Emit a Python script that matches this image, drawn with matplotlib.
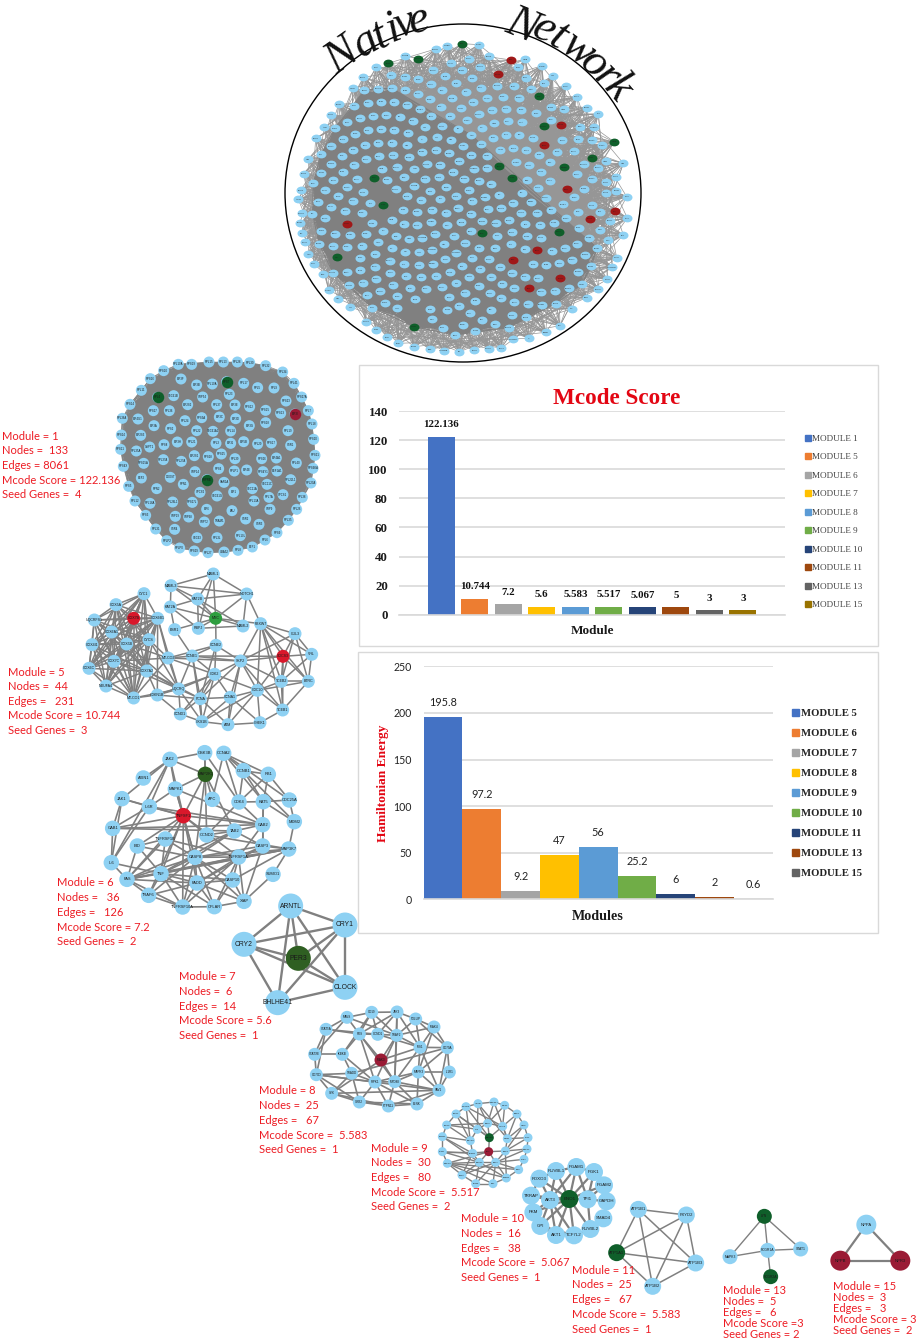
import itertools
import numpy as np
import matplotlib
matplotlib.use("Agg")
import matplotlib.pyplot as plt
from matplotlib.collections import LineCollection
from matplotlib.patches import Ellipse, Rectangle, Patch
from matplotlib.path import Path
from matplotlib.transforms import Affine2D

# ------ BAR DATA ------
mcode_labels = ["MODULE 1", "MODULE 5", "MODULE 6", "MODULE 7", "MODULE 8",
                "MODULE 9", "MODULE 10", "MODULE 11", "MODULE 13", "MODULE 15"]
mcode_values = [122.136, 10.744, 7.2, 5.6, 5.583, 5.517, 5.067, 5, 3, 3]
mcode_text = ["122.136", "10.744", "7.2", "5.6", "5.583", "5.517", "5.067", "5", "3", "3"]
mcode_colors = ["#4472C4", "#ED7D31", "#A5A5A5", "#FFC000", "#5B9BD5",
                "#70AD47", "#264478", "#9E480E", "#636363", "#997300"]

energy_labels = ["MODULE 5", "MODULE 6", "MODULE 7", "MODULE 8", "MODULE 9",
                 "MODULE 10", "MODULE 11", "MODULE 13", "MODULE 15"]
energy_values = [195.8, 97.2, 9.2, 47, 56, 25.2, 6, 2, 0.6]
energy_text = ["195.8", "97.2", "9.2", "47", "56", "25.2", "6", "2", "0.6"]

# ------ CAPTIONS (text, left edge, first line, line step) ------
captions = [
    (["Module = 1", "Nodes =  133", "Edges = 8061", "Mcode Score = 122.136", "Seed Genes =  4"], 2, 436, 14.7),
    (["Module = 5", "Nodes =  44", "Edges =   231", "Mcode Score = 10.744", "Seed Genes =  3"], 8, 672, 14.6),
    (["Module = 6", "Nodes =   36", "Edges =   126", "Mcode Score = 7.2", "Seed Genes =  2"], 57, 883, 14.7),
    (["Module = 7", "Nodes =  6", "Edges =  14", "Mcode Score = 5.6", "Seed Genes =  1"], 179, 977, 14.6),
    (["Module = 8", "Nodes =  25", "Edges =   67", "Mcode Score =  5.583", "Seed Genes =  1"], 259, 1091, 14.7),
    (["Module = 9", "Nodes =  30", "Edges =   80", "Mcode Score =  5.517", "Seed Genes =  2"], 371, 1148, 14.7),
    (["Module = 10", "Nodes =  16", "Edges =   38", "Mcode Score =  5.067", "Seed Genes =  1"], 461, 1219, 14.6),
    (["Module = 11", "Nodes =  25", "Edges =   67", "Mcode Score =  5.583", "Seed Genes =  1"], 572, 1270, 14.9),
    (["Module = 13", "Nodes =  5", "Edges =   6", "Mcode Score =3", "Seed Genes = 2"], 723, 1290, 11.2),
    (["Module = 15", "Nodes =  3", "Edges =   3", "Mcode Score = 3", "Seed Genes =  2"], 833, 1286, 11.2),
]

# ------ NETWORKS ------
# node positions are read from the picture, in zoom crop units (crop origin, 3x)
NODE = "#8ED1F3"
GREEN = "#0F5F2A"
RED = "#D9182B"
WINE = "#9A1B35"

m7_names = ["ARNTL", "CRY1", "CRY2", "PER3", "CLOCK", "BHLHE41"]
m7_x = [722, 885, 582, 745, 885, 683]
m7_y = [498, 555, 613, 655, 742, 788]
m7_edges = [(0,1),(0,2),(0,3),(0,4),(0,5),(1,2),(1,3),(1,4),(1,5),(2,3),(2,4),(2,5),(3,4),(4,5)]

m6_names = ["JAK2","GSK3B","CCNA2","AXIN1","MAP2K1","CCNB1","RB1","MAPK1","APC","CDK4","KAT5","CDC25A",
            "JAK1","IL6R","TNFSF1","MDM2","GAB1","GAB2","CCND2","TAB2","TNFRSF1B","BID","CASP3","MAP3K7",
            "CASP8","TNFRSF1A","IL6","SUMO1","FAS","TNF","FADD","CASP10","TRAF6","TNFRSF10A","CFLAR","XIAP"]
m6_x = [360,464,521,280,466,580,655,376,487,567,640,718,216,298,400,733,188,638,470,553,346,262,638,716,
        435,566,184,669,231,333,441,548,296,398,493,582]
m6_y = [58,38,40,114,103,92,103,147,178,186,185,180,176,200,227,245,265,254,285,273,297,318,318,327,
        352,351,368,403,418,401,429,420,466,501,500,484]
m6_edges = [(0,1),(0,3),(0,7),(0,12),(0,13),(0,26),(0,14),(0,4),(1,4),(1,9),(1,18),(2,5),(2,6),(2,9),(2,10),(2,11),
            (2,8),(5,6),(5,9),(5,10),(5,15),(6,10),(6,9),(6,11),(4,7),(4,14),(4,8),(4,19),(4,24),(7,13),(7,14),
            (7,24),(7,17),(9,10),(9,17),(9,18),(10,11),(10,15),(10,17),(10,22),(11,15),(12,13),(12,16),(12,26),
            (12,14),(13,16),(13,14),(13,17),(13,26),(14,16),(14,17),(14,18),(14,21),(14,24),(14,29),(14,28),
            (14,30),(14,33),(14,25),(14,32),(16,26),(16,19),(16,17),(17,22),(17,19),(17,25),(18,19),(18,23),
            (19,24),(19,22),(19,29),(19,28),(22,23),(22,25),(22,24),(22,30),(22,35),(15,23),(23,25),(23,29),
            (23,28),(23,27),(23,24),(23,31),(21,29),(21,28),(21,24),(21,20),(20,24),(20,28),(20,29),(20,25),
            (24,25),(24,29),(24,28),(24,30),(24,31),(24,32),(24,33),(24,34),(24,35),(25,29),(25,30),(25,31),
            (25,28),(25,33),(25,35),(25,34),(26,28),(26,29),(28,29),(28,30),(28,33),(28,32),(29,30),(29,32),
            (29,33),(29,34),(29,31),(30,33),(30,34),(30,35),(30,31),(31,34),(31,35),(33,34),(34,35),(27,35),
            (32,33),(32,30)]

m5_names = ["MAML1","MAML3","NOTCH1","CYC1","KAT2B","COX5A","KAT2A","COX7B","COX6B1","MYC","UQCRFS1","FBXW7",
            "MAML2","ESR1","RBPJ","COX6A1","CUL3","CYCS","COX4I1","COX5B","CCNE2","VHL","SOCS3","CCNE1","MT-CO2",
            "COX7C","SKP2","COX6C","COX7A2","CDK2","TCEB2","BTRC","NDUFA4","UQCRQ","CDC20","MT-CO1","CDKN1B",
            "PCNA","CCNA1","TCEB1","CCND1","CKS1B","ATM","CHEK1"]
m5_x = [640,513,740,432,593,348,511,401,473,647,283,782,729,524,595,335,885,447,276,380,648,935,849,577,504,
        342,722,267,440,644,844,925,318,536,772,401,472,601,691,848,541,606,684,780]
m5_y = [57,92,117,116,132,149,156,190,190,190,195,206,213,224,220,231,236,254,269,267,271,298,304,303,309,
        319,318,340,348,358,379,379,393,402,406,429,420,431,427,465,477,500,509,503]
m5_clique = [3,5,7,8,10,15,17,18,19,25,27,28,32,35]
m5_edges = [(0,1),(0,2),(0,4),(0,9),(0,14),(1,4),(1,6),(1,9),(1,2),(2,4),(2,9),(2,11),(2,12),(4,6),(4,9),(4,14),
            (4,12),(6,13),(6,14),(6,9),(9,14),(9,13),(9,12),(9,11),(9,20),(13,23),(12,14),(11,16),(11,22),(11,21),
            (11,26),(11,30),(11,31),(11,39),(11,34),(16,21),(16,22),(16,30),(16,31),(16,26),(21,22),(21,30),(21,31),
            (22,26),(22,30),(22,31),(22,34),(22,39),(22,23),(30,31),(30,34),(30,39),(31,39),(31,34),(34,39),(26,20),
            (26,23),(26,29),(26,34),(26,38),(26,37),(26,42),(26,24),(26,30),(26,39),(20,23),(20,29),(20,24),(20,37),
            (23,29),(23,33),(23,37),(23,41),(23,24),(24,33),(24,29),(29,33),(29,37),(29,38),(29,34),(29,36),(29,40),
            (29,41),(33,36),(33,37),(33,40),(33,41),(36,37),(36,40),(37,38),(37,40),(37,41),(37,42),(38,41),(38,34),
            (38,42),(38,43),(40,41),(41,42),(42,43),(34,43),(34,42),(43,39),(34,41),(8,24),(8,33),(17,24),(17,33),
            (19,24),(19,33),(25,33),(28,33),(28,36),(35,36),(35,33),(28,37),(25,24),(35,24),(8,36)]

m8_names = ["MAVS","CD19","JAK3","TOLLIP","IRAK4","STAT5A","FOS","CCND1","TRAF2","CD79A","IRS1","STAT3B","IKBKB",
            "IRAK3","CD79D","TRADD","MAPK3","IL1R1","RIPK1","MYD88","SYK","VAV1","GRB2","PTPN11","BLNK"]
m8_x = [291,365,441,497,552,228,328,383,440,592,510,194,277,393,199,305,505,598,375,434,245,567,328,415,501]
m8_y = [52,37,36,57,81,88,102,103,106,143,142,163,163,180,224,220,216,216,246,245,280,271,306,318,312]
m8_edges = [(0,1),(0,5),(0,6),(0,8),(0,11),(1,2),(1,6),(1,7),(1,8),(1,12),(2,3),(2,6),(2,7),(2,8),(2,10),(2,19),(3,4),
            (3,8),(3,10),(3,9),(4,8),(4,9),(4,10),(4,16),(5,6),(5,11),(5,14),(5,7),(6,7),(6,12),(6,13),(6,18),(6,19),
            (7,8),(7,10),(8,13),(8,18),(8,19),(8,10),(9,10),(9,17),(9,21),(9,16),(9,15),(10,16),(10,19),(10,13),(10,21),
            (11,14),(11,12),(12,15),(12,18),(13,19),(13,20),(14,15),(14,20),(14,22),(14,18),(14,21),(15,18),(15,20),
            (15,22),(16,17),(16,18),(16,19),(16,21),(16,24),(17,21),(18,19),(18,22),(18,23),(18,24),(19,21),(19,24),
            (19,23),(20,22),(20,23),(20,21),(21,24),(21,23),(22,23),(23,24),(22,24)]

m9_names = ["MAP3K7","IKBKB","RIPK1","MOTOR","NCK1","TGIF1","UBTF","TGIF2","BCL2","TRAF2","JUN","TGFB1","LEF1",
            "SMAD3","SMAD2","CTSD","FADD","SKIL","MAPK1","NFKB1","SHC1","PAK1","CDC42","CUL1","MAPK3","FOS","TGFA",
            "PTPN1","EPOR","CBL"]
m9_x = [732,684,764,648,801,618,822,590,713,758,682,577,834,661,718,772,577,716,831,668,766,822,688,737,592,
        806,636,769,677,729]
m9_y = [306,311,316,320,342,342,375,375,370,379,388,410,413,422,413,416,455,455,447,460,453,478,487,487,490,
        509,525,534,551,551]
m9_edges = [(0,1),(0,2),(1,3),(2,4),(3,5),(4,6),(5,7),(6,12),(7,11),(11,16),(12,18),(16,24),(18,21),(21,25),(24,26),
            (25,27),(26,28),(27,29),(28,29),(0,8),(1,10),(2,9),(3,13),(4,9),(5,10),(6,15),(7,13),(7,8),(8,9),(8,10),
            (8,14),(9,14),(9,15),(10,13),(10,14),(11,13),(11,19),(12,15),(13,19),(14,17),(15,20),(16,19),(16,22),
            (17,19),(17,20),(17,22),(17,23),(18,20),(19,22),(20,23),(21,23),(22,23),(22,24),(23,27),(24,27),(24,29),
            (24,25),(25,23),(26,19),(26,22),(27,20),(28,22),(29,23),(1,8),(3,14),(5,14),(0,15),(6,20),(1,15),(3,9),
            (5,13),(7,10),(11,22),(16,17),(24,17),(12,20),(18,23),(4,15),(2,8),(26,23),(28,23),(27,22)]

m10_names = ["PGAM1","PGK1","RUVBL1","FOXO3","PGAM2","TRRAP","AKT3","ENO1","TPI1","GAPDH","SMAD4","PKM","GPI",
             "RUVBL2","AKT1","TCF7L2"]
m10_x = [379,432,318,268,462,243,300,358,413,470,460,250,271,421,318,372]
m10_y = [21,36,33,56,76,107,120,117,118,124,175,157,198,207,225,226]
m10_edges = [(0,2),(0,1),(0,6),(0,7),(0,8),(1,7),(1,8),(2,3),(2,6),(2,7),(3,5),(3,6),(3,7),(4,7),(4,8),(5,6),(5,7),
             (5,11),(5,12),(6,7),(6,11),(6,12),(6,14),(7,8),(7,11),(7,12),(7,14),(7,15),(7,13),(8,9),(8,13),(10,13),
             (11,12),(11,14),(12,14),(12,15),(13,15),(14,15),(6,15)]

m11_names = ["ATP1B1", "FXYD2", "ATP1A1", "ATP1B3", "ATP1B2"]
m11_x = [565, 709, 500, 737, 608]
m11_y = [148, 165, 278, 309, 379]
m11_edges = [(0,1),(0,2),(0,3),(0,4),(1,2),(1,3),(1,4),(2,3),(2,4),(3,4)]

m13_names = ["LYN", "FCGR1A", "MAPK3", "STAT1", "FCGR2A"]
m13_x = [943, 953, 840, 1052, 962]
m13_y = [169, 271, 290, 267, 350]
m13_edges = [(0,1),(0,2),(0,3),(1,2),(1,3),(1,4)]

m15_names = ["NPPA", "NPPB", "NPR3"]
m15_x = [1249, 1171, 1351]
m15_y = [194, 302, 302]
m15_edges = [(0,1),(0,2),(1,2)]

m1_names = ["RPL10A","RPS19","RPL15","RPL13","RPL28","RPL30","RPL32","RPL34","RPL41","RPS27A","RPL7","RPL18","RPS20",
            "RPS21","RPS6KA","RPL23A","RPL38","RPL26","RPL35","RPS9","RPL6","ETF1","RPL8","UBA52","RPL27","RPS29",
            "RPLP0","RPLP2","RPL31","RPS3","RPL12","RPS5","RPS4X","RPS11","RPS24","RPL36A","RPS14","RPL11","RPS16",
            "RPS10","EIF3F","EIF3B","RPL10A","RPS7","RPL17","RPL5","RPL9","RPL4","SEC61B","SRP54","RPL23","RPS23",
            "EIF3I","RPS13","RPS15","RPS12","EIF3E","RPL37","EIF2S2","RPS27","RPL36","RPS3A","EIF3C","EIF3D","RPL24",
            "EIF4G1","EIF3A","RPS2","RPL22","SEC61A1","RPL14","EIF3G","RPS18","RPL19","EIF2S3","RPS8","EIF3H","RPL21",
            "RPL3","EIF3J","EIF5B","RPL29","RPS17","SSR1","GSPT1","RPL35A","RPL37A","EIF2S1","RPS28","RPS25","RPL39",
            "RPS26","EIF4A1","RPL40","RPS15A","RPL27A","SRP14","RPS6","RPLP1","EIF4E","RPS4Y1","EEF1A1","RPL22L1",
            "EEF2","DDOST","SRPRB","SAR1A","RPN1","RPN2","SEC11A","SEC11C","SPCS1","SPCS2","SEC61G","EIF1","RPL7A",
            "RPL13A","RPL18A","RPL26L1","RPS27L","EIF6","FAU","SRP9","SRP19","SRP68","SRP72","TRAM1","SSR2","SSR3",
            "SSR4","SEC63","RPL3L","RPL10L"]
m1_x = [535,575,627,670,712,749,797,848,882,905,925,936,941,945,939,933,907,890,865,831,795,757,714,672,624,583,539,
        500,467,437,405,386,370,362,364,367,390,424,451,491,
        543,590,637,680,731,773,822,473,521,608,688,858,885,842,797,749,705,650,563,460,508,605,658,707,555,414,462,
        512,590,639,692,748,797,864,422,492,532,575,648,692,731,773,814,872,449,409,490,583,625,664,705,785,829,889,
        431,544,585,656,703,740,789,831,872,424,511,621,672,550,470,757,801,849,600,651,701,807,762,450,518,577,620,
        696,810,526,566,613,658,737,777,524,591,651,721]
m1_y = [58,58,51,51,51,53,62,81,115,156,197,237,283,331,370,414,457,493,526,563,585,606,616,621,623,618,609,
        587,552,511,468,424,364,313,270,220,178,136,101,77,
        102,120,117,110,115,128,129,157,152,156,148,168,207,205,196,185,180,179,179,197,197,218,216,221,227,222,242,
        251,257,259,258,242,233,257,271,299,291,291,295,295,290,297,294,301,306,318,344,332,335,327,341,341,339,354,
        355,349,380,371,378,375,380,378,404,399,397,404,412,418,431,431,418,449,442,453,441,457,468,475,471,472,493,
        497,493,514,516,531,528,522,538,553,578,578,572]
m1_colored = {43: GREEN, 47: GREEN, 105: GREEN, 52: WINE}

# native network, crop origin (270, 0)
native_green_x = [577,354,444,807,821,1033,965,883,687,726,313,340,637,866,201,432]
native_green_y = [131,190,176,289,379,426,473,501,499,533,533,614,700,695,771,980]
native_red_x = [723,683,873,822,890,1035,959,231,801,729,871,777]
native_red_y = [180,222,374,435,568,634,656,672,751,779,835,865]
native_rim_x = [532,627,497,405,319,280,249,206,183,163,137,115,101,93,85,95,90,95,105,115,131,158,176,205,241,288,318,
                352,385,432,479,521,568,613,656,694,730,776,827,870,906,950,985,1012,1027,1040,1060,1072,1070,1060,1037,
                1007,995,985,950,921,887,848,815,765,881,1008,1007,965,380,480,532,662]
native_rim_y = [137,134,147,167,202,232,265,313,344,382,415,477,521,570,598,640,668,700,726,762,792,823,870,896,921,965,
                990,1012,1030,1040,1048,1052,1056,1050,1046,1044,1018,1015,997,977,926,893,867,838,801,773,705,654,590,
                490,530,483,436,342,323,290,258,228,198,178,327,547,578,615,925,927,930,930]
# outline of the solid grey mass
native_core_x = [130,250,330,600,770,985,960,770,650,430,210,95]
native_core_y = [430,270,240,400,620,740,845,985,1025,1005,870,650]

# curved title, letter by letter
title_letters = list("Native") + list("Network")
title_x = [342, 366, 381, 393, 405, 419, 522, 544, 558, 578, 594, 606, 618]
title_y = [57, 43, 36, 29, 24, 21, 26, 30, 38, 50, 64, 76, 88]
title_rot = [35, 30, 26, 22, 18, 14, -22, -27, -31, -36, -41, -45, -49]


def crop(xs, ys, x0, y0):
    return x0 + np.array(xs) / 3, y0 + np.array(ys) / 3


def draw_net(ax, names, x, y, edges, size, lw, fs, colors=None):
    x = np.array(x)
    y = np.array(y)
    segs = [[(x[a], y[a]), (x[b], y[b])] for a, b in edges]
    ax.add_collection(LineCollection(segs, colors="#808080", linewidths=lw, zorder=2))
    cols = [(colors or {}).get(n, NODE) for n in names]
    ax.scatter(x, y, s=(size * 0.72) ** 2, c=cols, linewidths=0, zorder=3)
    for n, a, b in zip(names, x, y):
        ax.text(a, b, n, fontsize=fs, ha="center", va="center", color="#1a1a1a",
                family="Liberation Sans", zorder=4)


plt.rcParams["font.family"] = "Liberation Serif"
fig = plt.figure(figsize=(9.18, 13.39), dpi=100)
ax = fig.add_axes([0, 0, 1, 1])
ax.set_xlim(0, 918)
ax.set_ylim(1339, 0)
ax.axis("off")

# ------ NATIVE NETWORK ------
ax.add_patch(Ellipse((463, 193), 356, 338, fill=False, ec="black", lw=1.0, zorder=5))

gx, gy = crop(native_green_x, native_green_y, 270, 0)
rx, ry = crop(native_red_x, native_red_y, 270, 0)
bx, by = crop(native_rim_x, native_rim_y, 270, 0)
placed = np.column_stack([np.r_[gx, rx, bx], np.r_[gy, ry, by]])

# the inner nodes are too many to read one by one, so they fill the disc evenly
inner = []
for k in range(400):
    t = np.sqrt((k + 0.5) / 400)
    ang = k * 2.39996
    p = (463 + 158 * t * np.cos(ang), 190 + 146 * t * np.sin(ang))
    if np.min(np.hypot(placed[:, 0] - p[0], placed[:, 1] - p[1])) > 10:
        inner.append(p)
inner = np.array(inner)

cx, cy = crop(native_core_x, native_core_y, 270, 0)
core_path = Path(np.column_stack([cx, cy]))
everyone = np.vstack([inner, placed])
in_core = core_path.contains_points(everyone)
core = everyone[in_core]
outer = everyone[~in_core]

segs = []
for i, p in enumerate(outer):
    for j in range(16):
        q = core[(i * 7 + j * 31) % len(core)]
        segs.append([tuple(p), tuple(q)])
    for j in range(1, 5):
        q = outer[(i + j * 9) % len(outer)]
        segs.append([tuple(p), tuple(q)])
ax.add_collection(LineCollection(segs, colors="#969696", linewidths=0.5, zorder=1))
segs = [[tuple(a), tuple(b)] for a, b in itertools.combinations(core, 2)]
ax.add_collection(LineCollection(segs, colors="#808080", linewidths=0.7, zorder=1.5))

flat = Path.unit_circle().transformed(Affine2D().scale(1, 0.78))
nx = np.r_[inner[:, 0], bx]
ny = np.r_[inner[:, 1], by]
ax.scatter(nx, ny, s=(10 * 0.72) ** 2, c=NODE, marker=flat, linewidths=0, zorder=3)
ax.scatter(gx, gy, s=(10 * 0.72) ** 2, c=GREEN, marker=flat, linewidths=0, zorder=3)
ax.scatter(rx, ry, s=(10 * 0.72) ** 2, c="#A01818", marker=flat, linewidths=0, zorder=3)

all_names = m5_names + m6_names + m8_names + m9_names + m10_names + m1_names
all_x = np.r_[nx, gx, rx]
all_y = np.r_[ny, gy, ry]
for i in range(len(all_x)):
    ax.text(all_x[i], all_y[i], all_names[i % len(all_names)], fontsize=1.3, ha="center", va="center",
            color="#222222", family="Liberation Sans", zorder=4)

for c, x, y, r in zip(title_letters, title_x, title_y, title_rot):
    ax.text(x, y, c, fontsize=33, style="italic", family="Liberation Serif", rotation=r,
            rotation_mode="anchor", ha="center", va="center", color="#111111", zorder=6)

# ------ MODULES ------
x, y = crop(m1_x, m1_y, 0, 345)
m1_edges = list(itertools.combinations(range(len(x)), 2))
draw_net(ax, m1_names[:len(x)], x, y, m1_edges, 11, 0.5, 2.0)
for idx, col in m1_colored.items():
    ax.scatter(x[idx], y[idx], s=(11.5 * 0.72) ** 2, c=col, linewidths=0, zorder=3.5)

x, y = crop(m5_x, m5_y, 0, 555)
edges = m5_edges + list(itertools.combinations(m5_clique, 2))
draw_net(ax, m5_names, x, y, edges, 13, 1.1, 2.6, {"COX7B": RED, "SOCS3": RED, "MYC": "#2E9E3F"})

x, y = crop(m6_x, m6_y, 50, 740)
draw_net(ax, m6_names, x, y, m6_edges, 15.5, 1.2, 2.9, {"TNFSF1": RED, "MAP2K1": "#2B5F1E"})

x, y = crop(m7_x, m7_y, 50, 740)
draw_net(ax, m7_names, x, y, m7_edges, 25, 1.7, 4.9, {"PER3": "#2F5F22"})

x, y = crop(m8_x, m8_y, 250, 1000)
draw_net(ax, m8_names, x, y, m8_edges, 13, 1.2, 2.2, {"IRAK3": WINE})

x, y = crop(m9_x, m9_y, 250, 1000)
draw_net(ax, m9_names, x, y, m9_edges, 9, 1.0, 1.6, {"SMAD2": GREEN, "SKIL": WINE})

x, y = crop(m10_x, m10_y, 450, 1160)
draw_net(ax, m10_names, x, y, m10_edges, 18, 1.6, 3.2, {"ENO1": GREEN})

x, y = crop(m11_x, m11_y, 450, 1160)
draw_net(ax, m11_names, x, y, m11_edges, 17, 1.1, 3.0, {"ATP1A1": GREEN})

x, y = crop(m13_x, m13_y, 450, 1160)
draw_net(ax, m13_names, x, y, m13_edges, 15, 1.0, 2.4, {"LYN": GREEN, "FCGR2A": GREEN})

x, y = crop(m15_x, m15_y, 450, 1160)
draw_net(ax, m15_names, x, y, m15_edges, 20, 1.6, 3.0, {"NPPB": WINE, "NPR3": WINE})

for lines, x0, y0, step in captions:
    for i, line in enumerate(lines):
        ax.text(x0, y0 + i * step, line, fontsize=8.0, color="#ED1C24", family="Lato", ha="left", va="center", zorder=7)

# ------ BAR FRAMES ------
ax.add_patch(Rectangle((359, 365), 519, 281, fill=False, ec="#d9d9d9", lw=1.0))
ax.add_patch(Rectangle((358, 652), 520, 281, fill=False, ec="#d9d9d9", lw=1.0))


def box(left, right, top, bottom):
    return fig.add_axes([left / 918, 1 - bottom / 1339, (right - left) / 918, (bottom - top) / 1339])


def style_bars(b):
    b.patch.set_alpha(0)
    for s in ["top", "left", "right"]:
        b.spines[s].set_visible(False)
    b.spines["bottom"].set_color("#d9d9d9")
    b.spines["bottom"].set_linewidth(1.2)
    b.set_xticks([])
    b.grid(axis="y", color="#d9d9d9", lw=1.2)
    b.set_axisbelow(True)


# ------ MCODE CHART ------
b1 = box(399, 785, 411, 614.7)
style_bars(b1)
pos = np.arange(len(mcode_values))
b1.bar(pos, mcode_values, width=0.8, color=mcode_colors)
b1.set_xlim(-1.264, 10.26)
b1.set_ylim(0, 140)
b1.set_yticks(range(0, 141, 20))
b1.tick_params(axis="y", length=0, pad=8, labelsize=9.3, labelcolor="#1a1a1a")
for t in b1.get_yticklabels():
    t.set_fontweight("bold")
b1.bar_label(b1.containers[0], labels=mcode_text, padding=5.5, fontsize=7.8, fontweight="bold", color="#111111")
fig.text(617 / 918, 1 - 399 / 1339, "Mcode Score", fontsize=16.7, fontweight="bold", color="#E30613", ha="center", va="center")
fig.text(592 / 918, 1 - 630.7 / 1339, "Module", fontsize=9.5, fontweight="bold", color="#1a1a1a", ha="center", va="center")
fig.legend(handles=[Patch(color=c, label=l) for c, l in zip(mcode_colors, mcode_labels)],
           loc="upper left", bbox_to_anchor=(804.5 / 918, 1 - 434.5 / 1339), frameon=False, fontsize=6.6,
           labelspacing=1.1, handlelength=0.7, handleheight=0.7, handletextpad=0.1, borderpad=0, borderaxespad=0,
           labelcolor="#404040")

# ------ ENERGY CHART ------
b2 = box(423.7, 772.7, 666.3, 899.3)
style_bars(b2)
pos = np.arange(len(energy_values))
b2.bar(pos, energy_values, width=1.0, color=mcode_colors[:8] + ["#636363"])
b2.set_xlim(-0.5, 8.5)
b2.set_ylim(0, 250)
b2.set_yticks(range(0, 251, 50))
b2.tick_params(axis="y", length=0, pad=8.5, labelsize=7.6, labelcolor="#222222")
for t in b2.get_yticklabels():
    t.set_fontfamily("Lato")
b2.bar_label(b2.containers[0], labels=energy_text, padding=6.5, fontsize=7.8, family="Lato", color="#222222")
fig.text(383 / 918, 1 - 783 / 1339, "Hamiltonian Energy", fontsize=9.6, fontweight="bold", color="#E30613",
         rotation=90, ha="center", va="center")
fig.text(598 / 918, 1 - 916 / 1339, "Modules", fontsize=10.2, fontweight="bold", color="#1a1a1a", ha="center", va="center")
fig.legend(handles=[Patch(color=c, label=l) for c, l in zip(mcode_colors[:8] + ["#636363"], energy_labels)],
           loc="upper left", bbox_to_anchor=(792 / 918, 1 - 709 / 1339), frameon=False,
           labelspacing=0.98, handlelength=0.7, handleheight=0.7, handletextpad=0.1, borderpad=0, borderaxespad=0,
           labelcolor="#222222", prop={"weight": "bold", "size": 7.7})

fig.savefig("out.png", dpi=100)
